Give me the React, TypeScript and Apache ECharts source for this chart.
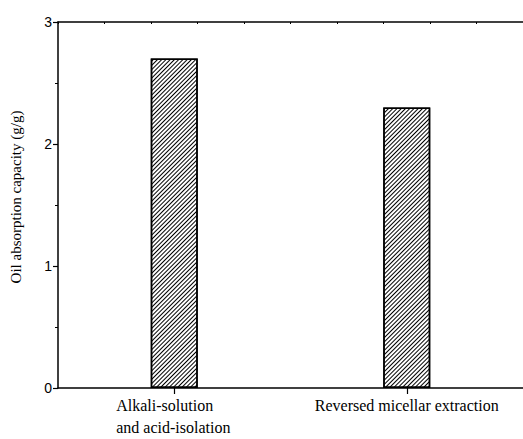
import React, { useEffect, useRef } from "react";
import * as echarts from "echarts";

const categories = ["Alkali-solution\nand acid-isolation", "Reversed micellar extraction"];
const values = [2.7, 2.3];
const yTicks = [0, 1, 2, 3];

export default function App() {
  const ref = useRef<HTMLDivElement>(null);
  useEffect(() => {
    if (!ref.current) return;
    const chart = echarts.init(ref.current, null, { renderer: "svg" });
    chart.setOption({
      animation: false,
      backgroundColor: "#fff",
      grid: {
        left: 54,
        top: 22,
        width: 471,
        bottom: 51,
        show: false,
      },
      xAxis: [
        {
          type: "category",
          data: categories,
          position: "bottom",
          axisLine: { show: true, lineStyle: { color: "#000", width: 1.5 } },
          axisTick: {
            show: true,
            alignWithLabel: true,
            interval: 0,
            length: 6,
            lineStyle: { color: "#000", width: 1.2 },
          },
          axisLabel: {
            show: true,
            interval: 0,
            hideOverlap: false,
            color: "#000",
            fontFamily: "Liberation Serif",
            fontSize: 16,
            margin: 6,
            lineHeight: 22,
            formatter: (v: string) => {
              const lines = v.split("\n");
              if (lines.length === 1) return v;
              return lines.map((l) => "{l|" + l + "}").join("\n");
            },
            rich: {
              l: {
                width: 116,
                align: "left",
                fontFamily: "Liberation Serif",
                fontSize: 16,
                lineHeight: 22,
                color: "#000",
              },
            },
          },
        },
        {
          type: "value",
          position: "top",
          min: 0,
          max: 10,
          interval: 1,
          axisLine: { show: true, onZero: false, lineStyle: { color: "#000", width: 1.5 } },
          axisTick: { show: true, inside: true, length: 2, lineStyle: { color: "#000", width: 1 } },
          axisLabel: { show: false },
          splitLine: { show: false },
        },
      ],
      yAxis: {
        type: "value",
        min: yTicks[0],
        max: yTicks[yTicks.length - 1],
        interval: 1,
        name: "Oil absorption capacity (g/g)",
        nameLocation: "middle",
        nameGap: 35,
        nameTextStyle: {
          fontFamily: "Liberation Serif",
          fontSize: 15,
          color: "#000",
          padding: [0, 0, 0, 16],
        },
        axisLine: { show: true, lineStyle: { color: "#000", width: 1.5 } },
        axisTick: { show: true, length: 5, lineStyle: { color: "#000", width: 1.2 } },
        minorTick: { show: true, splitNumber: 2, length: 3, lineStyle: { color: "#000", width: 1 } },
        axisLabel: { color: "#000", fontFamily: "Liberation Sans", fontSize: 14, margin: 6 },
        splitLine: { show: false },
      },
      series: [
        {
          type: "bar",
          data: values,
          barWidth: 47,
          xAxisIndex: 0,
          itemStyle: {
            color: "#fff",
            borderColor: "#000",
            borderWidth: 1.5,
            decal: {
              symbol: "rect",
              symbolSize: 1,
              dashArrayX: [1, 0],
              dashArrayY: [1, 1.5],
              rotation: -Math.PI / 4,
              color: "#000",
              backgroundColor: "#fff",
            },
          },
        },
      ],
    });
    return () => chart.dispose();
  }, []);
  return (
    <div
      ref={ref}
      style={{ position: "absolute", left: 0, top: 0, width: 523, height: 439 }}
    />
  );
}
